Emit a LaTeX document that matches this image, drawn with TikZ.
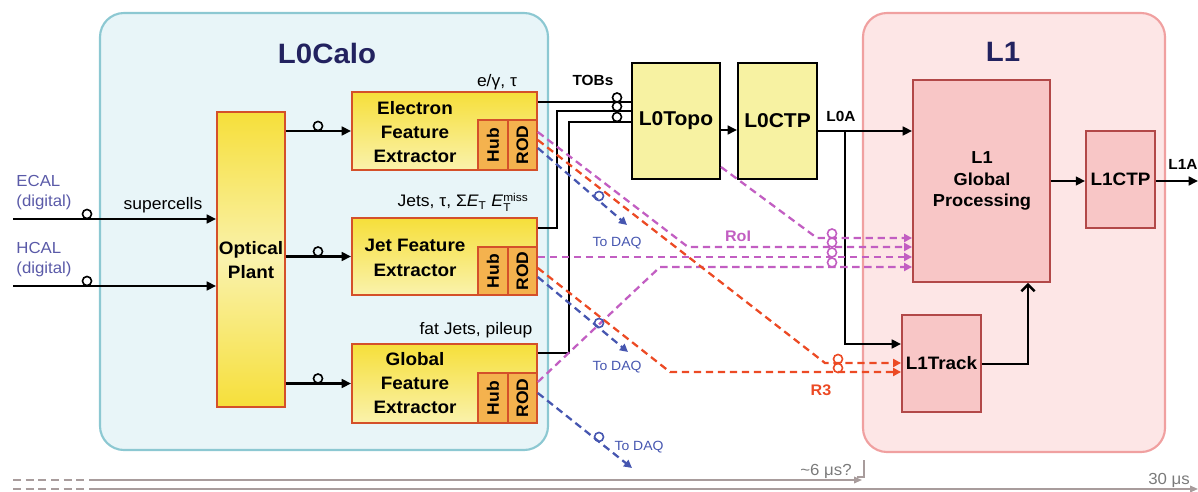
\documentclass[tikz,border=0pt]{standalone}
\usepackage{fontspec}
\setmainfont{Liberation Sans}[FakeStretch=1.05]
\usepackage{graphicx}
\usetikzlibrary{arrows.meta,calc}
\definecolor{calofill}{HTML}{E8F5F8}
\definecolor{caloline}{HTML}{8CC8D2}
\definecolor{l1fill}{HTML}{FDE6E6}
\definecolor{l1line}{HTML}{F0A0A0}
\definecolor{navy}{HTML}{22225F}
\definecolor{feline}{HTML}{D4502A}
\definecolor{yelA}{HTML}{F6DF3A}
\definecolor{yelB}{HTML}{FAF2AC}
\definecolor{hubfill}{HTML}{F4B24E}
\definecolor{topofill}{HTML}{F7F2A2}
\definecolor{lonefill}{HTML}{F8C6C6}
\definecolor{loneline}{HTML}{B24848}
\definecolor{roic}{HTML}{C25EC2}
\definecolor{rthree}{HTML}{EC4A24}
\definecolor{daqc}{HTML}{4656B0}
\definecolor{inlbl}{HTML}{5A5AA8}
\definecolor{tlcol}{HTML}{A89C9C}
\definecolor{ttext}{HTML}{7A7A7A}
\newcommand{\smalltxt}[1]{\mbox{\fontsize{8.5}{9}\selectfont #1}}
\begin{document}
\begin{tikzpicture}[x=0.75pt,y=-0.75pt,
  container/.style={line width=1.6pt, rounded corners=18pt, inner sep=0pt},
  title/.style={font=\fontsize{21}{25}\selectfont\bfseries, text=navy},
  febox/.style={draw=feline, line width=1.4pt, top color=yelA, bottom color=yelB, inner sep=0pt},
  subbox/.style={draw=feline, line width=1.2pt, fill=hubfill, inner sep=0pt, font=\fontsize{12.5}{14}\selectfont\bfseries},
  bt/.style={align=center, font=\fontsize{13.5}{18}\selectfont\bfseries},
  topobox/.style={draw=black, line width=1.5pt, fill=topofill, inner sep=0pt, font=\fontsize{15}{18}\selectfont\bfseries},
  lonebox/.style={draw=loneline, line width=1.4pt, fill=lonefill, inner sep=0pt, align=center, font=\fontsize{13.5}{16}\selectfont\bfseries},
  lbl/.style={font=\fontsize{12.5}{15}\selectfont},
  bl/.style={font=\fontsize{11}{13}\selectfont\bfseries},
  inl/.style={align=left, text=inlbl, font=\fontsize{12}{15}\selectfont},
  blk/.style={draw=black, line width=1.8pt},
  arr/.style={blk, -{Triangle[length=7pt,width=6.5pt]}},
  ring/.style={circle, draw, line width=1.2pt, minimum size=6.8pt, inner sep=0pt},
  dsh/.style={line width=1.7pt, dash pattern=on 5.5pt off 3.5pt},
  roil/.style={dsh, draw=roic, -{Triangle[length=6pt,width=6pt]}},
  r3l/.style={dsh, draw=rthree, -{Triangle[length=6pt,width=6pt]}},
  daql/.style={dsh, draw=daqc, -{Triangle[length=6pt,width=6pt]}},
  daqlbl/.style={text=daqc, font=\fontsize{10}{12}\selectfont},
  tlc/.style={draw=tlcol, line width=1.1pt},
  tltip/.style={tlc, -{Triangle[length=6pt,width=5pt]}},
  tltext/.style={text=ttext, font=\fontsize{12}{14}\selectfont}
]
\useasboundingbox (0,0) rectangle (1198,492);

% containers
\node[container, draw=caloline, fill=calofill, minimum width=336pt, minimum height=327.75pt] (calo) at (324,231.5) {};
\node[container, draw=l1line, fill=l1fill, minimum width=226.5pt, minimum height=329.25pt] (lone) at (1014,232.5) {};
\node[title] (calotitle) at (327,53) {L0Calo};
\node[title] (lonetitle) at (1003,52) {L1};

% optical plant
\node[febox, top color=yelA, bottom color=yelA, middle color=yelB, minimum width=51pt, minimum height=221.25pt] (opt) at (251,259.5) {};
\node[bt] (opttext) at (251,260) {Optical\\Plant};

% feature extractors
\node[febox, minimum width=138.75pt, minimum height=58.5pt] (efe) at (444.5,131) {};
\node[subbox, minimum width=22.5pt, minimum height=37.5pt] (ehub) at (493,145) {\rotatebox{90}{Hub}};
\node[subbox, minimum width=21.75pt, minimum height=37.5pt] (erod) at (522.5,145) {\rotatebox{90}{ROD}};
\node[bt] (efetext) at (415,132) {Electron\\Feature\\Extractor};

\node[febox, minimum width=138.75pt, minimum height=57.75pt] (jfe) at (444.5,256.5) {};
\node[subbox, minimum width=22.5pt, minimum height=36pt] (jhub) at (493,271) {\rotatebox{90}{Hub}};
\node[subbox, minimum width=21.75pt, minimum height=36pt] (jrod) at (522.5,271) {\rotatebox{90}{ROD}};
\node[bt, font=\fontsize{13.5}{18.75}\selectfont\bfseries] (jfetext) at (415,257.5) {Jet Feature\\Extractor};

\node[febox, minimum width=138.75pt, minimum height=59.25pt] (gfe) at (444.5,383.5) {};
\node[subbox, minimum width=22.5pt, minimum height=37.5pt] (ghub) at (493,398) {\rotatebox{90}{Hub}};
\node[subbox, minimum width=21.75pt, minimum height=37.5pt] (grod) at (522.5,398) {\rotatebox{90}{ROD}};
\node[bt] (gfetext) at (415,383) {Global\\Feature\\Extractor};

\node[lbl] (egam) at (497,82) {e/γ, τ};
\node[lbl, inner sep=1pt] (jets) at (463,202) {Jets, τ, Σ\textit{E}$_{\smalltxt{T}}$ \textit{E}$^{\smalltxt{miss}}_{\smalltxt{T}}$};
\node[lbl] (fatjets) at (476,330) {fat Jets, pileup};

% L0 boxes
\node[topobox, minimum width=66pt, minimum height=87pt] (topo) at (676,121) {L0Topo};
\node[topobox, minimum width=59.25pt, minimum height=87pt] (ctp) at (777.5,121) {L0CTP};

% L1 boxes
\node[lonebox, minimum width=102.75pt, minimum height=151.5pt] (l1g) at (981.5,181) {};
\node[bt, font=\fontsize{13}{16}\selectfont\bfseries] (l1gtext) at (982,181) {L1\\Global\\Processing};
\node[lonebox, minimum width=51.75pt, minimum height=72.75pt] (lctp) at (1120.5,179.5) {L1CTP};
\node[lonebox, minimum width=59.25pt, minimum height=72.75pt] (ltrack) at (941.5,363.5) {L1Track};

% inputs
\coordinate (ecalin) at (13,219);
\coordinate (hcalin) at (13,286);
\draw[arr] (ecalin) -- (ecalin -| opt.west);
\draw[arr] (hcalin) -- (hcalin -| opt.west);
\node[ring] (ecalring) at (87,214) {};
\node[ring] (hcalring) at (87,281) {};
\node[inl] (ecallbl) at (44,193) {ECAL\\(digital)};
\node[inl] (hcallbl) at (44,260) {HCAL\\(digital)};
\node[lbl] (supercells) at (163,205) {supercells};

% optical plant to extractors
\draw[arr] (opt.east |- efe.west) -- (efe.west);
\draw[arr] (opt.east |- jfe.west) -- (jfe.west);
\draw[arr] (opt.east |- gfe.west) -- (gfe.west);
\node[ring] (oring1) at (318,126) {};
\node[ring] (oring2) at (318,251.5) {};
\node[ring] (oring3) at (318,378.5) {};

% TOBs
\draw[blk] (efe.east |- 0,102) -- (topo.west |- 0,102);
\draw[blk] (jfe.east |- 0,228) -- (557,228) -- (557,111) -- (topo.west |- 0,111);
\draw[blk] (gfe.east |- 0,353) -- (569,353) -- (569,122) -- (topo.west |- 0,122);
\node[ring] (tring1) at (617,97.5) {};
\node[ring] (tring2) at (617,106.5) {};
\node[ring] (tring3) at (617,117) {};
\node[bl] (tobs) at (593,80) {TOBs};

% L0 chain
\draw[arr] (topo.east |- 0,130) -- (ctp.west |- 0,130);
\draw[arr] (ctp.east |- 0,131) -- (l1g.west |- 0,131);
\node[bl] (l0a) at (841,116) {L0A};
\coordinate (l0abr) at (845,131);
\draw[arr] (l0abr) -- (845,344) -- (ltrack.west |- 0,344);
\draw[arr] (l1g.east |- 0,181) -- (lctp.west |- 0,181);
\coordinate (l1aout) at (1198,181);
\draw[arr] (lctp.east |- l1aout) -- (l1aout);
\node[bl] (l1a) at (1183,164) {L1A};
\draw[blk, -{Straight Barb[length=5pt,width=10pt]}] (ltrack.east |- 0,364) -- (1028,364) -- (l1g.south -| 1028,0);

% RoI lines
\draw[roil] (topo.east |- 0,167) -- (817,238) -- (l1g.west |- 0,238);
\draw[roil] (erod.east |- 0,132) -- (688,247) -- (l1g.west |- 0,247);
\draw[roil] (jrod.east |- 0,257) -- (l1g.west |- 0,257);
\draw[roil] (grod.east |- 0,382) -- (660,267) -- (l1g.west |- 0,267);
\node[ring, draw=roic] (pring1) at (832,233.5) {};
\node[ring, draw=roic] (pring2) at (832,242.5) {};
\node[ring, draw=roic] (pring3) at (832,252.5) {};
\node[ring, draw=roic] (pring4) at (832,262.5) {};
\node[bl, text=roic, font=\fontsize{11.5}{13}\selectfont\bfseries] (roilbl) at (738,236) {RoI};

% R3 lines
\draw[r3l] (erod.east |- 0,140) -- (825,363) -- (ltrack.west |- 0,363);
\draw[r3l] (jrod.east |- 0,268) -- (670,372) -- (ltrack.west |- 0,372);
\node[ring, draw=rthree] (rring1) at (838,359) {};
\node[ring, draw=rthree] (rring2) at (838,368) {};
\node[bl, text=rthree, font=\fontsize{11.5}{13}\selectfont\bfseries] (r3lbl) at (821,390) {R3};

% To DAQ
\coordinate (daqA) at (627,225);
\coordinate (daqB) at (628,352);
\coordinate (daqC) at (632,468);
\draw[daql] (erod.east |- 0,148) -- (daqA);
\draw[daql] (jrod.east |- 0,277) -- (daqB);
\draw[daql] (grod.east |- 0,393) -- (daqC);
\node[ring, draw=daqc] (bring1) at (599,196) {};
\node[ring, draw=daqc] (bring2) at (599,323) {};
\node[ring, draw=daqc] (bring3) at (599,437) {};
\node[daqlbl] (daqlA) at (617,243) {To DAQ};
\node[daqlbl] (daqlB) at (617,367) {To DAQ};
\node[daqlbl] (daqlC) at (639,447) {To DAQ};

% timeline
\coordinate (tlA0) at (13,480);
\coordinate (tlA1) at (95,480);
\coordinate (tlAend) at (862,480);
\coordinate (tlB0) at (13,489);
\coordinate (tlB1) at (95,489);
\coordinate (tlBend) at (1198,489);
\draw[tlc, dash pattern=on 6pt off 3.5pt] (tlA0) -- (tlA1);
\draw[tlc, dash pattern=on 6pt off 3.5pt] (tlB0) -- (tlB1);
\draw[tltip] (tlA1) -- (tlAend);
\draw[tltip] (tlB1) -- (tlBend);
\coordinate (tick) at (864,460);
\draw[tlc] (tick) -- (864,477) -- (857,477);
\node[tltext] (sixus) at (826,471) {\textasciitilde 6 μs?};
\node[tltext] (thirtyus) at (1169,480) {30 μs};
\end{tikzpicture}
\end{document}
